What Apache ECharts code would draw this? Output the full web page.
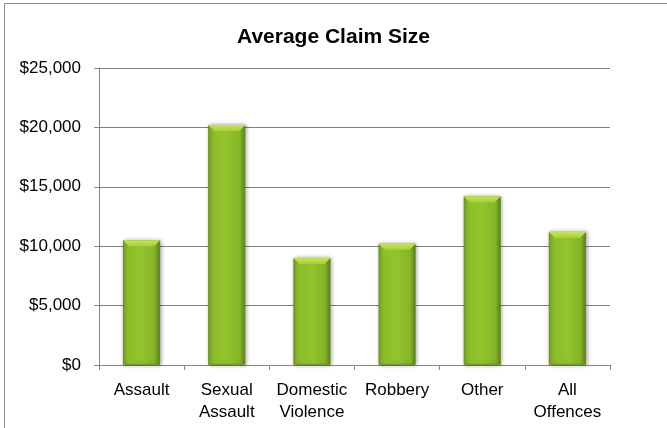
<!DOCTYPE html>
<html>
<head>
<meta charset="utf-8">
<script src="https://cdn.jsdelivr.net/npm/echarts@6/dist/echarts.min.js"></script>
<style>
  html, body { margin: 0; padding: 0; background: #fff; }
  #chart { width: 667px; height: 428px; }
</style>
</head>
<body>
<div id="chart"></div>
<script>
// Average claim size by offence type (AUD)
var categories = ['Assault', 'Sexual\nAssault', 'Domestic\nViolence', 'Robbery', 'Other', 'All\nOffences'];
var claimValues = [10500, 20200, 9000, 10200, 14200, 11200];
var yTicks = { min: 0, max: 25000, interval: 5000 };

var chart = echarts.init(document.getElementById('chart'), null, { renderer: 'canvas' });

var barFill = new echarts.graphic.LinearGradient(0, 0, 1, 0, [
  { offset: 0, color: '#7aa824' },
  { offset: 0.12, color: '#8dbd2a' },
  { offset: 0.5, color: '#93c42c' },
  { offset: 0.85, color: '#86b428' },
  { offset: 1, color: '#5e861a' }
]);

chart.setOption({
  animation: false,
  textStyle: { fontFamily: 'Liberation Sans, Arial, sans-serif' },
  title: {
    text: 'Average Claim Size',
    left: 'center',
    top: 22,
    textStyle: { fontSize: 21, fontWeight: 'bold', color: '#000', fontFamily: 'Liberation Sans, Arial, sans-serif' }
  },
  graphic: [{
    type: 'rect',
    shape: { x: 4.5, y: 3.5, width: 800, height: 600 },
    style: { fill: 'none', stroke: '#8c8c8c', lineWidth: 1 },
    z: -1
  }],
  grid: { left: 99, right: 57, top: 68, bottom: 63 },
  xAxis: {
    type: 'category',
    data: categories,
    axisLine: { lineStyle: { color: '#868686', width: 1 } },
    axisTick: { show: true, alignWithLabel: false, length: 5, lineStyle: { color: '#868686' } },
    axisLabel: { color: '#000', fontSize: 17, lineHeight: 22, margin: 14, interval: 0 }
  },
  yAxis: {
    type: 'value',
    min: yTicks.min,
    max: yTicks.max,
    interval: yTicks.interval,
    axisLine: { show: true, lineStyle: { color: '#868686', width: 1 } },
    axisTick: { show: true, length: 5, lineStyle: { color: '#868686' } },
    splitLine: { lineStyle: { color: '#808080', width: 1 } },
    axisLabel: {
      color: '#000', fontSize: 17, margin: 18,
      formatter: function (v) { return '$' + v.toLocaleString('en-US'); }
    }
  },
  series: [{
    type: 'bar',
    data: claimValues,
    barWidth: 37,
    itemStyle: {
      color: barFill,
      borderColor: '#5d8519',
      borderWidth: 0.8,
      shadowColor: 'rgba(0,0,0,0.35)',
      shadowBlur: 4,
      shadowOffsetX: 1,
      shadowOffsetY: 0
    }
  }, {
    // light bevel along the top edge of each bar
    type: 'custom',
    data: claimValues.map(function (v, i) { return [i, v]; }),
    renderItem: function (params, api) {
      var top = api.coord([api.value(0), api.value(1)]);
      var w = 37, x0 = top[0] - w / 2, x1 = top[0] + w / 2, y = top[1], b = 6;
      return {
        type: 'polygon',
        shape: { points: [[x0, y], [x1, y], [x1 - b, y + b], [x0 + b, y + b]] },
        style: {
          fill: new echarts.graphic.LinearGradient(0, 0, 0, 1, [
            { offset: 0, color: '#c6e45a' },
            { offset: 1, color: '#a6d03a' }
          ])
        }
      };
    },
    z: 5
  }]
});
</script>
</body>
</html>
